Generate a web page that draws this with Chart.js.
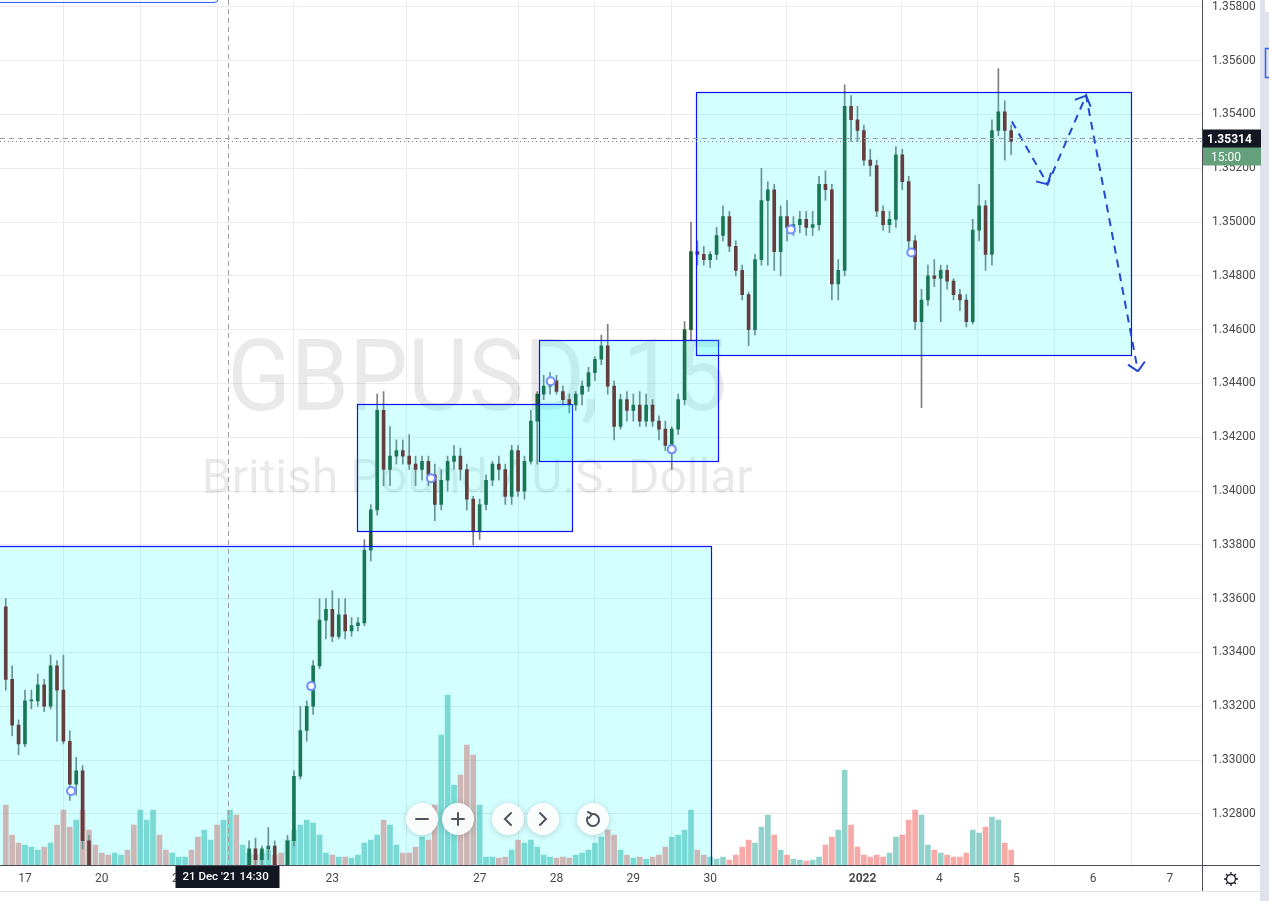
<!DOCTYPE html>
<html>
<head>
<meta charset="utf-8">
<script src="https://cdn.jsdelivr.net/npm/chart.js@4.4.0/dist/chart.umd.min.js"></script>
<style>
  html, body { margin: 0; padding: 0; background: #fff; overflow: hidden; }
</style>
</head>
<body>
<canvas id="chart" width="1269" height="901"></canvas>
<script>
const ctx = document.getElementById('chart');

// 2-hour candles, slot 0 = 17 Dec 00:00 (weekends skipped)
const firstSlot = -3;
const open = [
  1.3357,1.3330,1.3313,1.3306,1.3322,1.3322,1.3328,1.3320,1.3335,1.3326,1.3307,1.3291,
  1.3296,1.3270,1.3256,1.3242,1.3236,1.3228,1.3235,1.3248,1.3240,1.3220,1.3225,1.3230,
  1.3238,1.3233,1.3227,1.3231,1.3239,1.3244,1.3240,1.3235,1.3242,1.3250,1.3243,1.3247,
  1.3252,1.3249,1.3255,1.3267,1.3263,1.3267,1.3268,1.3257,1.3254,1.3270,1.3294,1.3311,
  1.3320,1.3335,1.3352,1.3356,1.3346,1.3354,1.3348,1.3350,1.3351,1.3378,1.3393,1.3430,
  1.3408,1.3413,1.3415,1.3413,1.3410,1.3408,1.3411,1.3406,1.3395,1.3404,1.3411,1.3413,
  1.3408,1.3397,1.3385,1.3395,1.3404,1.3410,1.3408,1.3398,1.3415,1.3400,1.3411,1.3426,
  1.3436,1.3439,1.3441,1.3437,1.3434,1.3432,1.3436,1.3439,1.3444,1.3449,1.3454,1.3439,
  1.3424,1.3434,1.3430,1.3432,1.3426,1.3432,1.3426,1.3423,1.3417,1.3423,1.3434,1.3460,
  1.3489,1.3488,1.3486,1.3488,1.3495,1.3502,1.3491,1.3482,1.3473,1.3460,1.3486,1.3508,
  1.3512,1.3489,1.3502,1.3498,1.3499,1.3501,1.3498,1.3499,1.3514,1.3512,1.3477,1.3482,
  1.3543,1.3538,1.3534,1.3523,1.3521,1.3504,1.3499,1.3501,1.3525,1.3515,1.3493,1.3463,
  1.3471,1.3480,1.3479,1.3482,1.3478,1.3473,1.3471,1.3463,1.3497,1.3506,1.3488,1.3534,
  1.3541,1.3534
];
const high = [
  1.3360,1.3335,1.3315,1.3326,1.3326,1.3332,1.3330,1.3339,1.3337,1.3339,1.3311,1.3301,
  1.3298,1.3272,1.3258,1.3250,1.3245,1.3240,1.3252,1.3255,1.3246,1.3232,1.3238,1.3242,
  1.3245,1.3240,1.3236,1.3242,1.3250,1.3252,1.3248,1.3246,1.3255,1.3257,1.3251,1.3256,
  1.3258,1.3257,1.3270,1.3271,1.3268,1.3275,1.3270,1.3259,1.3272,1.3296,1.3320,1.3322,
  1.3337,1.3360,1.3360,1.3363,1.3360,1.3360,1.3353,1.3353,1.3382,1.3395,1.3436,1.3437,
  1.3424,1.3419,1.3419,1.3421,1.3413,1.3413,1.3413,1.3410,1.3408,1.3413,1.3417,1.3416,
  1.3410,1.3398,1.3397,1.3406,1.3411,1.3413,1.3410,1.3417,1.3417,1.3413,1.3430,1.3437,
  1.3443,1.3444,1.3443,1.3439,1.3436,1.3437,1.3441,1.3446,1.3450,1.3458,1.3462,1.3441,
  1.3436,1.3437,1.3436,1.3437,1.3436,1.3434,1.3428,1.3426,1.3424,1.3436,1.3463,1.3500,
  1.3493,1.3491,1.3489,1.3498,1.3506,1.3504,1.3493,1.3484,1.3474,1.3488,1.3520,1.3515,
  1.3514,1.3506,1.3508,1.3502,1.3504,1.3504,1.3504,1.3517,1.3519,1.3514,1.3486,1.3551,
  1.3547,1.3543,1.3536,1.3527,1.3523,1.3506,1.3504,1.3528,1.3527,1.3517,1.3495,1.3475,
  1.3484,1.3486,1.3484,1.3484,1.3479,1.3475,1.3473,1.3501,1.3514,1.3508,1.3538,1.3557,
  1.3545,1.3536
];
const low = [
  1.3326,1.3309,1.3302,1.3305,1.3319,1.3320,1.3318,1.3319,1.3307,1.3306,1.3285,1.3287,
  1.3267,1.3256,1.3238,1.3230,1.3222,1.3220,1.3230,1.3236,1.3215,1.3205,1.3218,1.3224,
  1.3228,1.3222,1.3219,1.3226,1.3232,1.3236,1.3230,1.3226,1.3236,1.3238,1.3232,1.3240,
  1.3242,1.3243,1.3254,1.3259,1.3257,1.3263,1.3256,1.3252,1.3252,1.3268,1.3293,1.3307,
  1.3317,1.3334,1.3345,1.3344,1.3345,1.3345,1.3346,1.3348,1.3350,1.3374,1.3391,1.3402,
  1.3402,1.3410,1.3410,1.3408,1.3402,1.3404,1.3402,1.3389,1.3393,1.3400,1.3408,1.3404,
  1.3393,1.3380,1.3382,1.3393,1.3402,1.3404,1.3395,1.3395,1.3398,1.3397,1.3410,1.3410,
  1.3434,1.3436,1.3436,1.3432,1.3429,1.3430,1.3432,1.3437,1.3441,1.3447,1.3436,1.3419,
  1.3423,1.3426,1.3426,1.3424,1.3424,1.3424,1.3419,1.3415,1.3408,1.3421,1.3432,1.3456,
  1.3484,1.3484,1.3483,1.3486,1.3493,1.3489,1.3480,1.3471,1.3454,1.3458,1.3484,1.3484,
  1.3482,1.3480,1.3493,1.3495,1.3496,1.3495,1.3495,1.3497,1.3508,1.3471,1.3471,1.3480,
  1.3530,1.3530,1.3521,1.3517,1.3502,1.3497,1.3496,1.3498,1.3512,1.3489,1.3460,1.3431,
  1.3469,1.3476,1.3463,1.3475,1.3471,1.3467,1.3461,1.3462,1.3493,1.3482,1.3484,1.3532,
  1.3523,1.3525
];
const close = [
  1.3330,1.3313,1.3306,1.3322,1.3322,1.3328,1.3320,1.3335,1.3326,1.3307,1.3291,1.3296,
  1.3270,1.3256,1.3242,1.3236,1.3228,1.3235,1.3248,1.3240,1.3220,1.3225,1.3230,1.3238,
  1.3233,1.3227,1.3231,1.3239,1.3244,1.3240,1.3235,1.3242,1.3250,1.3243,1.3247,1.3252,
  1.3249,1.3255,1.3267,1.3263,1.3267,1.3268,1.3257,1.3254,1.3270,1.3294,1.3311,1.3320,
  1.3335,1.3352,1.3356,1.3346,1.3354,1.3348,1.3350,1.3351,1.3378,1.3393,1.3430,1.3408,
  1.3413,1.3415,1.3413,1.3410,1.3408,1.3411,1.3406,1.3395,1.3404,1.3411,1.3413,1.3408,
  1.3397,1.3385,1.3395,1.3404,1.3410,1.3408,1.3398,1.3415,1.3400,1.3411,1.3426,1.3436,
  1.3439,1.3441,1.3437,1.3434,1.3432,1.3436,1.3439,1.3444,1.3449,1.3454,1.3439,1.3424,
  1.3434,1.3430,1.3432,1.3426,1.3432,1.3426,1.3423,1.3417,1.3423,1.3434,1.3460,1.3489,
  1.3488,1.3486,1.3488,1.3495,1.3502,1.3491,1.3482,1.3473,1.3460,1.3486,1.3508,1.3512,
  1.3489,1.3502,1.3498,1.3499,1.3501,1.3498,1.3499,1.3514,1.3512,1.3477,1.3482,1.3543,
  1.3538,1.3534,1.3523,1.3521,1.3504,1.3499,1.3501,1.3525,1.3515,1.3493,1.3463,1.3471,
  1.3480,1.3479,1.3482,1.3478,1.3473,1.3471,1.3463,1.3497,1.3506,1.3488,1.3534,1.3541,
  1.3534,1.3530
];
const volume = [
  60,30,22,20,18,15,18,22,40,55,38,45,
  55,35,20,12,10,12,10,15,40,55,45,55,
  30,15,12,8,8,15,28,35,25,40,45,55,
  50,20,12,10,12,15,10,12,25,35,40,45,
  42,30,12,10,8,8,7,10,22,25,30,45,
  40,20,12,12,18,28,25,60,130,170,80,90,
  120,110,60,8,8,7,8,15,25,22,25,18,
  10,8,7,8,7,10,12,15,22,28,35,30,
  15,10,7,8,6,8,10,18,28,30,35,55,
  15,10,8,6,8,5,10,18,25,22,38,50,
  30,15,10,6,5,4,5,8,20,28,35,95,
  40,18,10,8,10,8,12,28,30,45,55,50,
  20,15,12,10,8,8,12,35,32,38,48,45,
  22,15
];

// axis ticks
const dayTicks = [0, 12, 24, 36, 48, 71, 83, 95, 107, 130.8, 142.8, 154.8, 166.8, 178.8];
const dayLabels = ['17', '20', '21', '22', '23', '27', '28', '29', '30', '2022', '4', '5', '6', '7'];
const priceTicks = [1.328, 1.330, 1.332, 1.334, 1.336, 1.338, 1.340, 1.342, 1.344,
                    1.346, 1.348, 1.350, 1.352, 1.354, 1.356, 1.358];

// rectangles drawn on the chart (slot / price)
const boxStart = [-10, 51.8, 80.3, 104.8];
const boxEnd = [107.1, 85.4, 108.2, 172.7];
const boxTop = [1.33796, 1.34322, 1.34563, 1.35485];
const boxBottom = [1.30000, 1.33851, 1.34111, 1.34507];

// projected path (dashed arrows)
const pathX = [154.1, 159.7, 165.7, 173.8];
const pathY = [1.35374, 1.35140, 1.35470, 1.34445];

// small circle markers
const markX = [7.2, 44.7, 63.4, 82.1, 101.0, 119.6, 138.4];
const markY = [1.32885, 1.33275, 1.34048, 1.34408, 1.34155, 1.34972, 1.34887];

// crosshair
const crossSlot = 31.7;
const crossPrice = 1.35314;
const crossDate = "21 Dec '21";
const crossClock = '14:30';
const countdown = '15:00';

const FONT = 'Roboto, "Liberation Sans", Arial, sans-serif';
const slots = open.map((v, i) => firstSlot + i);
const isUp = open.map((v, i) => close[i] >= v);

// drawings on top of the candles
const drawings = {
  id: 'drawings',
  beforeDatasetsDraw(chart) {
    const c = chart.ctx, a = chart.chartArea;
    c.save();
    c.fillStyle = 'rgba(0,0,0,0.085)';
    c.textAlign = 'center';
    c.textBaseline = 'alphabetic';
    const cx = a.left + a.width * 0.397;
    c.font = '100px ' + FONT;
    c.fillText('GBPUSD, 15', cx, a.top + a.height * 0.474, 500);
    c.font = '48px ' + FONT;
    c.fillText('British Pound / U.S. Dollar', cx, a.top + a.height * 0.57, 566);
    c.restore();
  },
  afterDatasetDraw(chart, args) {
    const ds = chart.data.datasets[args.index];
    const c = chart.ctx, a = chart.chartArea;
    const x = chart.scales.x, y = chart.scales.y;
    if (ds.label === 'bodies') {
      c.save();
      c.beginPath();
      c.rect(a.left, a.top, a.width, a.height);
      c.clip();
      boxStart.forEach((s, i) => {
        const x0 = Math.round(x.getPixelForValue(s)) + 0.5;
        const x1 = Math.round(x.getPixelForValue(boxEnd[i])) + 0.5;
        const y0 = Math.round(y.getPixelForValue(boxTop[i])) + 0.5;
        const y1 = Math.round(y.getPixelForValue(boxBottom[i])) + 0.5;
        c.fillStyle = 'rgba(0,255,255,0.17)';
        c.fillRect(x0, y0, x1 - x0, y1 - y0);
        c.strokeStyle = '#1010ff';
        c.lineWidth = 1.2;
        c.strokeRect(x0, y0, x1 - x0, y1 - y0);
      });
      c.restore();
    }
    if (ds.label === 'path') {
      const pts = chart.getDatasetMeta(args.index).data;
      c.save();
      c.strokeStyle = '#2447d4';
      c.lineWidth = 2;
      c.setLineDash([]);
      for (let k = 1; k < pts.length; k++) {
        const p = pts[k], q = pts[k - 1];
        const ang = Math.atan2(p.y - q.y, p.x - q.x);
        c.beginPath();
        [-0.8, 0.8].forEach(d => {
          c.moveTo(p.x, p.y);
          c.lineTo(p.x - 12 * Math.cos(ang + d), p.y - 12 * Math.sin(ang + d));
        });
        c.stroke();
      }
      c.restore();
    }
  },
  afterDraw(chart) {
    const c = chart.ctx, a = chart.chartArea;
    const x = chart.scales.x, y = chart.scales.y;
    c.save();

    // crosshair + last price line
    const cxp = Math.round(x.getPixelForValue(crossSlot)) + 0.5;
    const cyp = Math.round(y.getPixelForValue(crossPrice)) + 0.5;
    const lyp = Math.round(y.getPixelForValue(close[close.length - 1])) + 0.5;
    c.lineWidth = 1;
    c.strokeStyle = '#80838c';
    c.setLineDash([1, 3]);
    c.beginPath(); c.moveTo(0, lyp); c.lineTo(a.right, lyp); c.stroke();
    c.strokeStyle = '#9a9ca3';
    c.setLineDash([5, 4]);
    c.beginPath(); c.moveTo(cxp, 0); c.lineTo(cxp, a.bottom); c.stroke();
    c.beginPath(); c.moveTo(0, cyp); c.lineTo(a.right, cyp); c.stroke();
    c.setLineDash([]);

    // legend frame edge at top-left
    c.strokeStyle = '#2962ff';
    c.beginPath(); c.moveTo(0, 2.5); c.lineTo(214, 2.5);
    c.quadraticCurveTo(218, 2.5, 218, -1); c.stroke();

    // navigation buttons
    const navX = [422, 458, 508, 543, 593];
    const navY = a.bottom - 46;
    navX.forEach(nx => {
      c.save();
      c.shadowColor = 'rgba(0,0,0,0.18)';
      c.shadowBlur = 7;
      c.shadowOffsetY = 1;
      c.fillStyle = 'rgba(255,255,255,0.95)';
      c.beginPath(); c.arc(nx, navY, 16, 0, Math.PI * 2); c.fill();
      c.restore();
    });
    c.strokeStyle = '#50535e';
    c.lineWidth = 2;
    c.lineCap = 'round';
    c.beginPath();
    c.moveTo(navX[0] - 6, navY); c.lineTo(navX[0] + 6, navY);
    c.moveTo(navX[1] - 6, navY); c.lineTo(navX[1] + 6, navY);
    c.moveTo(navX[1], navY - 6); c.lineTo(navX[1], navY + 6);
    c.moveTo(navX[2] + 3, navY - 6); c.lineTo(navX[2] - 3, navY); c.lineTo(navX[2] + 3, navY + 6);
    c.moveTo(navX[3] - 3, navY - 6); c.lineTo(navX[3] + 3, navY); c.lineTo(navX[3] - 3, navY + 6);
    c.stroke();
    c.beginPath();
    c.arc(navX[4], navY + 1, 6, -Math.PI * 0.55, Math.PI * 1.15);
    c.stroke();
    c.beginPath();
    c.moveTo(navX[4] - 5, navY - 7); c.lineTo(navX[4] - 1, navY - 5); c.lineTo(navX[4] - 4, navY - 1);
    c.stroke();
    c.lineCap = 'butt';

    // axis frame bits
    c.lineWidth = 1;
    c.strokeStyle = '#4a4d57';
    c.beginPath();
    c.moveTo(a.right, a.bottom + 0.5); c.lineTo(1260, a.bottom + 0.5);
    c.moveTo(a.right + 0.5, 0); c.lineTo(a.right + 0.5, a.bottom + 26);
    c.stroke();
    c.strokeStyle = '#e0e3eb';
    c.beginPath(); c.moveTo(0, a.bottom + 26.5); c.lineTo(1260, a.bottom + 26.5); c.stroke();

    // side toolbar strip
    c.fillStyle = '#e0e3eb';
    c.fillRect(1260, 0, 9, chart.height);
    c.fillStyle = '#fff';
    c.fillRect(1265, 0, 4, 12);
    c.strokeStyle = '#2962ff';
    c.lineWidth = 1.5;
    c.strokeRect(1265.5, 48.5, 10, 29);

    // crosshair time label
    c.font = '500 11.5px ' + FONT;
    c.textBaseline = 'middle';
    c.fillStyle = '#131722';
    c.fillRect(cxp - 53, a.bottom + 1, 104, 22);
    c.fillStyle = '#fff';
    c.textAlign = 'left';
    c.fillText(crossDate, cxp - 46, a.bottom + 12);
    c.fillText(crossClock, cxp + 11, a.bottom + 12);

    // price labels
    c.fillStyle = '#64a07c';
    c.fillRect(a.right + 1, lyp - 8, 58, 32);
    c.fillStyle = '#fff';
    c.font = '12px ' + FONT;
    c.fillText(countdown, a.right + 9, lyp + 16);
    c.fillStyle = '#131722';
    c.fillRect(a.right + 1, cyp - 9, 58, 18);
    c.fillStyle = '#fff';
    c.font = 'bold 12px ' + FONT;
    c.fillText(crossPrice.toFixed(5), a.right + 5, cyp + 1);

    // settings gear
    const gx = 1231, gy = a.bottom + 14;
    c.strokeStyle = '#131722';
    c.lineWidth = 1.3;
    c.beginPath(); c.arc(gx, gy, 4.5, 0, Math.PI * 2); c.stroke();
    c.beginPath();
    for (let k = 0; k < 8; k++) {
      const t = k * Math.PI / 4;
      c.moveTo(gx + 4.5 * Math.cos(t), gy + 4.5 * Math.sin(t));
      c.lineTo(gx + 7 * Math.cos(t), gy + 7 * Math.sin(t));
    }
    c.stroke();
    c.restore();
  }
};

new Chart(ctx, {
  type: 'bar',
  data: {
    datasets: [
      {
        label: 'markers',
        type: 'line',
        showLine: false,
        data: markX.map((v, i) => ({ x: v, y: markY[i] })),
        pointRadius: 4,
        pointBackgroundColor: '#ffffff',
        pointBorderColor: '#6f8dff',
        pointBorderWidth: 2,
        order: 0
      },
      {
        label: 'path',
        type: 'line',
        data: pathX.map((v, i) => ({ x: v, y: pathY[i] })),
        borderColor: '#2447d4',
        borderWidth: 2,
        borderDash: [8, 6],
        pointRadius: 0,
        tension: 0,
        order: 1
      },
      {
        label: 'bodies',
        data: slots.map((s, i) => ({ x: s, y: [Math.min(open[i], close[i]), Math.max(open[i], close[i])] })),
        backgroundColor: isUp.map(u => u ? '#1f5c34' : '#7a1616'),
        barThickness: 3,
        minBarLength: 1,
        grouped: false,
        order: 2
      },
      {
        label: 'wicks',
        data: slots.map((s, i) => ({ x: s, y: [low[i], high[i]] })),
        backgroundColor: '#7d7d7d',
        barThickness: 1,
        grouped: false,
        order: 3
      },
      {
        label: 'volume',
        yAxisID: 'yv',
        data: slots.map((s, i) => ({ x: s, y: volume[i] })),
        backgroundColor: isUp.map(u => u ? 'rgba(38,166,154,0.5)' : 'rgba(239,83,80,0.5)'),
        barThickness: 5,
        grouped: false,
        order: 4
      }
    ]
  },
  options: {
    responsive: false,
    animation: false,
    layout: { padding: 0, autoPadding: false },
    plugins: { legend: { display: false }, tooltip: { enabled: false } },
    scales: {
      x: {
        type: 'linear',
        min: -3.9,
        max: 183.8,
        offset: false,
        grid: { color: '#ebebeb', drawTicks: false },
        border: { color: '#4a4d57' },
        ticks: {
          autoSkip: false,
          maxRotation: 0,
          padding: 7,
          color: '#4a4a4a',
          font: c => ({ family: FONT, size: 12, weight: c.index === 9 ? 'bold' : 'normal' }),
          callback: (v, i) => dayLabels[i]
        },
        afterBuildTicks: s => { s.ticks = dayTicks.map(v => ({ value: v })); },
        afterFit: s => { s.height = 36; }
      },
      y: {
        type: 'linear',
        position: 'right',
        min: 1.3261,
        max: 1.35823,
        grid: { color: '#ebebeb', drawTicks: true, tickLength: 10, tickColor: 'rgba(0,0,0,0)' },
        border: { color: '#4a4d57' },
        ticks: {
          padding: 0,
          color: '#4a4a4a',
          font: { family: FONT, size: 12, lineHeight: 0.1 },
          callback: v => v.toFixed(5)
        },
        afterBuildTicks: s => { s.ticks = priceTicks.map(v => ({ value: v })); },
        afterFit: s => { s.width = 67; }
      },
      yv: { display: false, min: 0, max: 865 }
    }
  },
  plugins: [drawings]
});
</script>
</body>
</html>
